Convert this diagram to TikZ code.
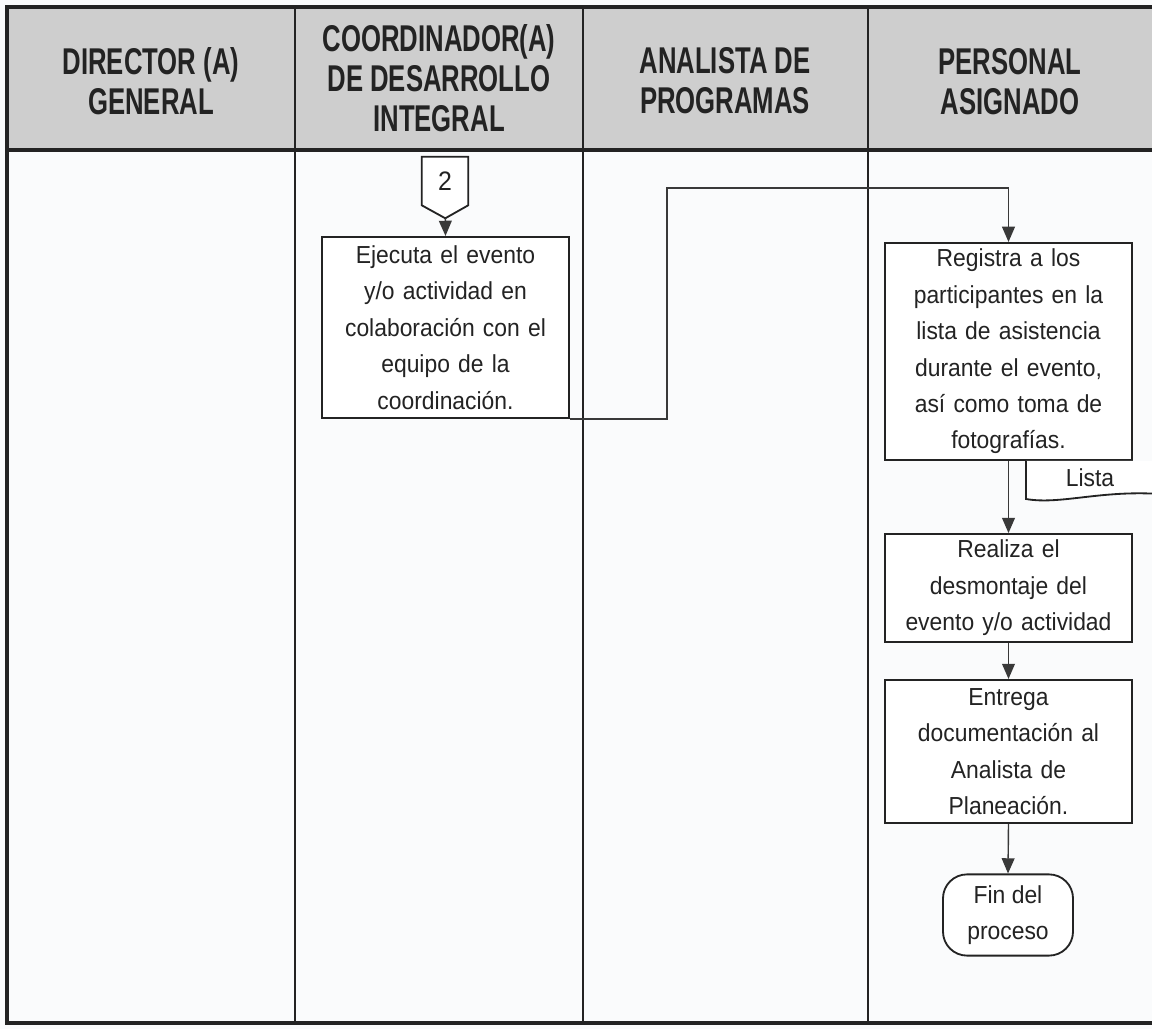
\documentclass[tikz,border=0pt]{standalone}
\usepackage{fontspec}
\setmainfont{Liberation Sans}
\newfontfamily\headfont[FakeStretch=0.69]{Liberation Sans}
\newfontfamily\bodyfont[FakeStretch=0.93]{Liberation Sans}
\usetikzlibrary{positioning,arrows.meta}
\definecolor{paper}{RGB}{250,251,252}
\definecolor{headgray}{RGB}{206,206,206}
\definecolor{ink}{RGB}{35,35,35}
\tikzset{
frame/.style={draw=ink,line width=2.2pt},
lane/.style={draw=ink,line width=1.1pt},
headtxt/.style={font=\headfont\bfseries\fontsize{26.5}{28.4}\selectfont,align=center,text=ink,inner sep=0pt},
stepbox/.style={draw=ink,line width=1.3pt,fill=white,minimum width=6.175cm,text width=5.9cm,align=center,inner sep=1pt,text=ink,font=\bodyfont\fontsize{17.5}{25.9}\selectfont},
offpage/.style={minimum width=1.15cm,minimum height=1.2cm,inner sep=0pt,text=ink,font=\bodyfont\fontsize{19}{22}\selectfont},
shapeline/.style={draw=ink,line width=1.3pt,fill=white},
endbox/.style={draw=ink,line width=1.3pt,fill=white,rounded corners=0.6cm,minimum width=3.25cm,minimum height=2.03cm,align=center,inner sep=0pt,text=ink,font=\bodyfont\fontsize{17.5}{25.9}\selectfont},
doctxt/.style={text=ink,inner sep=0pt,font=\bodyfont\fontsize{17.5}{20}\selectfont},
flow/.style={draw=ink!90,line width=1pt,-{Triangle[length=3.8mm,width=3.2mm]}},
link/.style={draw=ink!90,line width=1pt}
}
\begin{document}
\begin{tikzpicture}[x=0.025cm,y=-0.025cm]
\fill[paper] (0,0) rectangle (1152,1029);
\useasboundingbox (0,0) rectangle (1152,1029);
% table with lanes
\begin{scope}
\clip (0,0) rectangle (1152,1029);
\fill[headgray] (7,7) rectangle (1160,150);
\draw[frame] (1160,7) -- (7,7) -- (7,1023) -- (1160,1023);
\draw[frame] (7,150) -- (1160,150);
\foreach \x in {295,583,868}
  \draw[lane] (\x,7) -- (\x,1023);
\end{scope}
% lane titles
\node[headtxt] (director) at (151,81) {DIRECTOR (A)\\GENERAL};
\node[headtxt] (coord) at (439,78) {COORDINADOR(A)\\DE DESARROLLO\\INTEGRAL};
\node[headtxt] (analista) at (725,81) {ANALISTA DE\\PROGRAMAS};
\node[headtxt] (personal) at (1010,82) {PERSONAL\\ASIGNADO};
% off-page connector
\node[offpage] (c2) at (445,181) {};
\draw[shapeline] (c2.north west) -- (c2.north east) -- (c2.south east)
  -- ++(-23,13) coordinate (c2tip) -- (c2.south west) -- cycle;
\node at (c2) [offpage] {2};
% steps
\node[stepbox,minimum height=4.53cm] (ejecuta) at (445.5,327.5)
  {Ejecuta el evento\\y/o actividad en\\colaboración con el\\equipo de la\\coordinación.};
\node[stepbox,minimum height=5.43cm] (registra) at (1008.5,351.5)
  {Registra a los\\participantes en la\\lista de asistencia\\durante el evento,\\así como toma de\\fotografías.};
\node[stepbox,minimum height=2.7cm] (desmonta) at (1008.5,588)
  {Realiza el\\desmontaje del\\evento y/o actividad};
\node[stepbox,minimum height=3.58cm] (entrega) at (1008.5,751.5)
  {Entrega\\documentación al\\Analista de\\Planeación.};
\node[endbox] (fin) at (1008,915) {Fin del\\proceso};
% document
\coordinate (docA) at (1026,461);
\coordinate (docB) at (1160,461);
\draw[shapeline] (docA) -- (1026,499) .. controls (1060,505) and (1100,490) .. (1160,494) -- (docB);
\node[doctxt] (lista) at (1090,478) {Lista};
% connectors
\draw[flow] (c2tip) -- (ejecuta.north);
\coordinate (turn) at (667,188);
\draw[flow] (ejecuta.south east) -| (turn) -| (registra.north);
\draw[flow] (registra.south) -- (desmonta.north);
\draw[flow] (desmonta.south) -- (entrega.north);
\draw[flow] (entrega.south) -- (fin.north);
\end{tikzpicture}
\end{document}
